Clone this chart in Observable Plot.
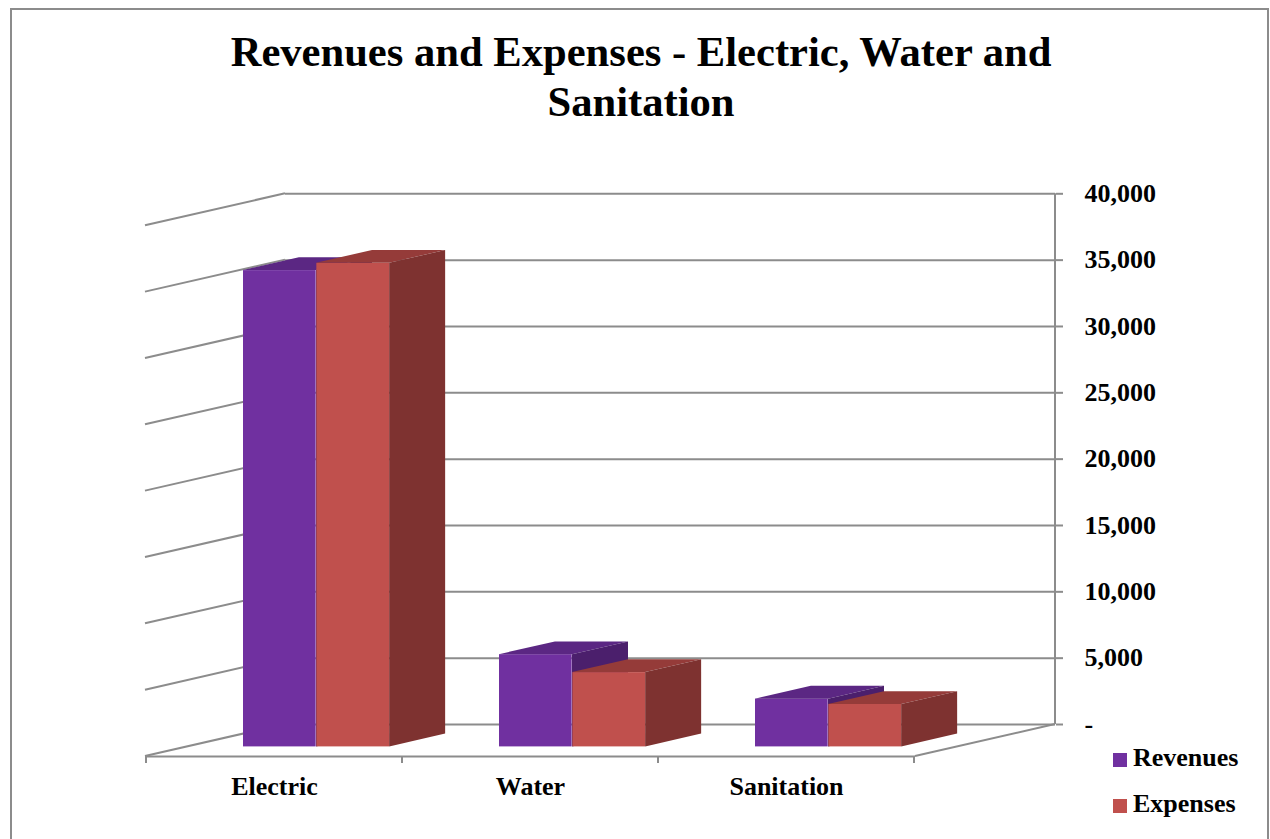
<!DOCTYPE html>
<html>
<head>
<meta charset="utf-8">
<script src="https://cdn.jsdelivr.net/npm/d3@7"></script>
<script src="https://cdn.jsdelivr.net/npm/@observablehq/plot@0.6"></script>
<style>
  html, body { margin: 0; padding: 0; background: #fff; width: 1270px; height: 839px; overflow: hidden; }
  body { position: relative; font-family: "Liberation Serif", "Times New Roman", serif; font-weight: bold; color: #000; }
  #frame { position: absolute; left: 10px; top: 8px; width: 1255px; height: 900px; border: 2px solid #8c8c8c; z-index: 5; pointer-events: none; }
  #title { position: absolute; left: 0; top: 27px; width: 1282px; text-align: center; font-size: 42.6px; line-height: 50px; }
  #chart { position: absolute; left: 0; top: 150px; }
  .sw { position: absolute; left: 1113px; width: 14px; height: 14px; }
  .lt { position: absolute; left: 1133px; font-size: 26px; line-height: 26px; white-space: nowrap; }
</style>
</head>
<body>
<div id="frame"></div>
<div id="title">Revenues and Expenses - Electric, Water and<br>Sanitation</div>
<div id="chart"></div>
<div class="sw" style="top:753px;background:#7030A0"></div>
<div class="lt" style="top:745px">Revenues</div>
<div class="sw" style="top:799px;background:#C0504D"></div>
<div class="lt" style="top:791px">Expenses</div>
<script>
// ---- data ----
const categories = ["Electric", "Water", "Sanitation"];
const seriesNames = ["Revenues", "Expenses"];
const revenues = [35900, 6950, 3600];
const expenses = [36450, 5600, 3200];
const yTicks = [0, 5000, 10000, 15000, 20000, 25000, 30000, 35000, 40000];
const yTickLabels = ["-", "5,000", "10,000", "15,000", "20,000", "25,000", "30,000", "35,000", "40,000"];

// ---- styling / layout ----
const colors = {
  Revenues: {front: "#7030A0", top: "#5B2783", side: "#4B1F6C"},
  Expenses: {front: "#C0504D", top: "#953B39", side: "#7E3230"}
};
const grid = "#8c8c8c";
const W = 1270, H = 689;
const mLeft = 145, mRight = 355, mTop = 75.3, mBottom = 83;
const wallDx = 140, wallDy = -32;            // depth vector floor-front -> back wall
const frontDepth = 0.3, backDepth = 0.7;      // bar depth range
const fDx = wallDx * frontDepth, fDy = wallDy * frontDepth;
const bDx = wallDx * (backDepth - frontDepth), bDy = wallDy * (backDepth - frontDepth);
const gapWidth = 1.5;                         // gap as fraction of bar width
const bandW = (W - mLeft - mRight) / categories.length;
const barW = bandW / (seriesNames.length + gapWidth);
const gap = barW * gapWidth / 2;

const values = {Revenues: revenues, Expenses: expenses};
const rows = s => categories.map((c, i) => ({category: c, series: s, value: values[s][i]}));
const fmtTick = v => yTickLabels[yTicks.indexOf(v)];

function line(g, x1, y1, x2, y2) {
  g.append("line").attr("x1", x1).attr("y1", y1).attr("x2", x2).attr("y2", y2);
}

// side walls, floor edges, vertical axis line, category tick marks
const wallMark = (index, scales) => {
  const g = d3.create("svg:g").attr("stroke", grid).attr("stroke-width", 2).attr("fill", "none");
  const [xa, xb] = scales.x.range();
  const y0 = scales.y(0);
  for (const t of yTicks) line(g, xa, scales.y(t), xa + wallDx, scales.y(t) + wallDy);
  line(g, xb, y0, xb + wallDx, y0 + wallDy);
  line(g, xb + wallDx, y0 + wallDy, xb + wallDx, scales.y(yTicks[yTicks.length - 1]) + wallDy);
  const edges = categories.map(c => scales.x(c)).concat([scales.x(categories[categories.length - 1]) + scales.x.bandwidth()]);
  for (const x of edges) line(g, x, y0, x, y0 + 7);
  return g.node();
};

// top and side faces of 3D columns
const facesMark = s => (index, scales) => {
  const g = d3.create("svg:g").attr("stroke", "none");
  const k = seriesNames.indexOf(s);
  const bw = scales.x.bandwidth();
  const w = bw / (seriesNames.length + gapWidth);
  const gp = w * gapWidth / 2;
  for (const d of rows(s)) {
    const x1 = scales.x(d.category) + gp + k * w + fDx;
    const x2 = x1 + w;
    const yT = scales.y(d.value) + fDy;
    const yB = scales.y(0) + fDy;
    g.append("polygon")
      .attr("points", [[x1, yT], [x2, yT], [x2 + bDx, yT + bDy], [x1 + bDx, yT + bDy]].map(p => p.join(",")).join(" "))
      .attr("fill", colors[s].top);
    g.append("polygon")
      .attr("points", [[x2, yT], [x2 + bDx, yT + bDy], [x2 + bDx, yB + bDy], [x2, yB]].map(p => p.join(",")).join(" "))
      .attr("fill", colors[s].side);
  }
  return g.node();
};

const barMarks = s => {
  const k = seriesNames.indexOf(s);
  return [
    Plot.barY(rows(s), {
      x: "category", y: "value", fill: colors[s].front,
      insetLeft: gap + k * barW,
      insetRight: bandW - gap - (k + 1) * barW,
      dx: fDx, dy: fDy
    }),
    facesMark(s)
  ];
};

const chart = Plot.plot({
  width: W, height: H,
  marginLeft: mLeft, marginRight: mRight, marginTop: mTop, marginBottom: mBottom,
  style: {background: "transparent", fontFamily: "'Liberation Serif', 'Times New Roman', serif", fontSize: "26px", fontWeight: "bold", color: "#000", overflow: "visible"},
  x: {domain: categories, padding: 0, label: null},
  y: {domain: [yTicks[0], yTicks[yTicks.length - 1]], label: null},
  marks: [
    wallMark,
    Plot.ruleY(yTicks, {dx: wallDx, dy: wallDy, stroke: grid, strokeWidth: 2}),
    Plot.ruleY([0], {stroke: grid, strokeWidth: 2}),
    Plot.axisY({ticks: yTicks, anchor: "right", dx: wallDx, dy: wallDy, tickSize: 7, tickPadding: 22,
      stroke: grid, strokeWidth: 2, fill: "#000", tickFormat: fmtTick, label: null, fontSize: 26, fontWeight: "bold"}),
    Plot.axisX({anchor: "bottom", tickSize: 0, tickPadding: 20, label: null, fontSize: 26, fontWeight: "bold", fill: "#000"}),
    ...barMarks("Revenues"),
    ...barMarks("Expenses")
  ]
});
document.getElementById("chart").appendChild(chart);
</script>
</body>
</html>
